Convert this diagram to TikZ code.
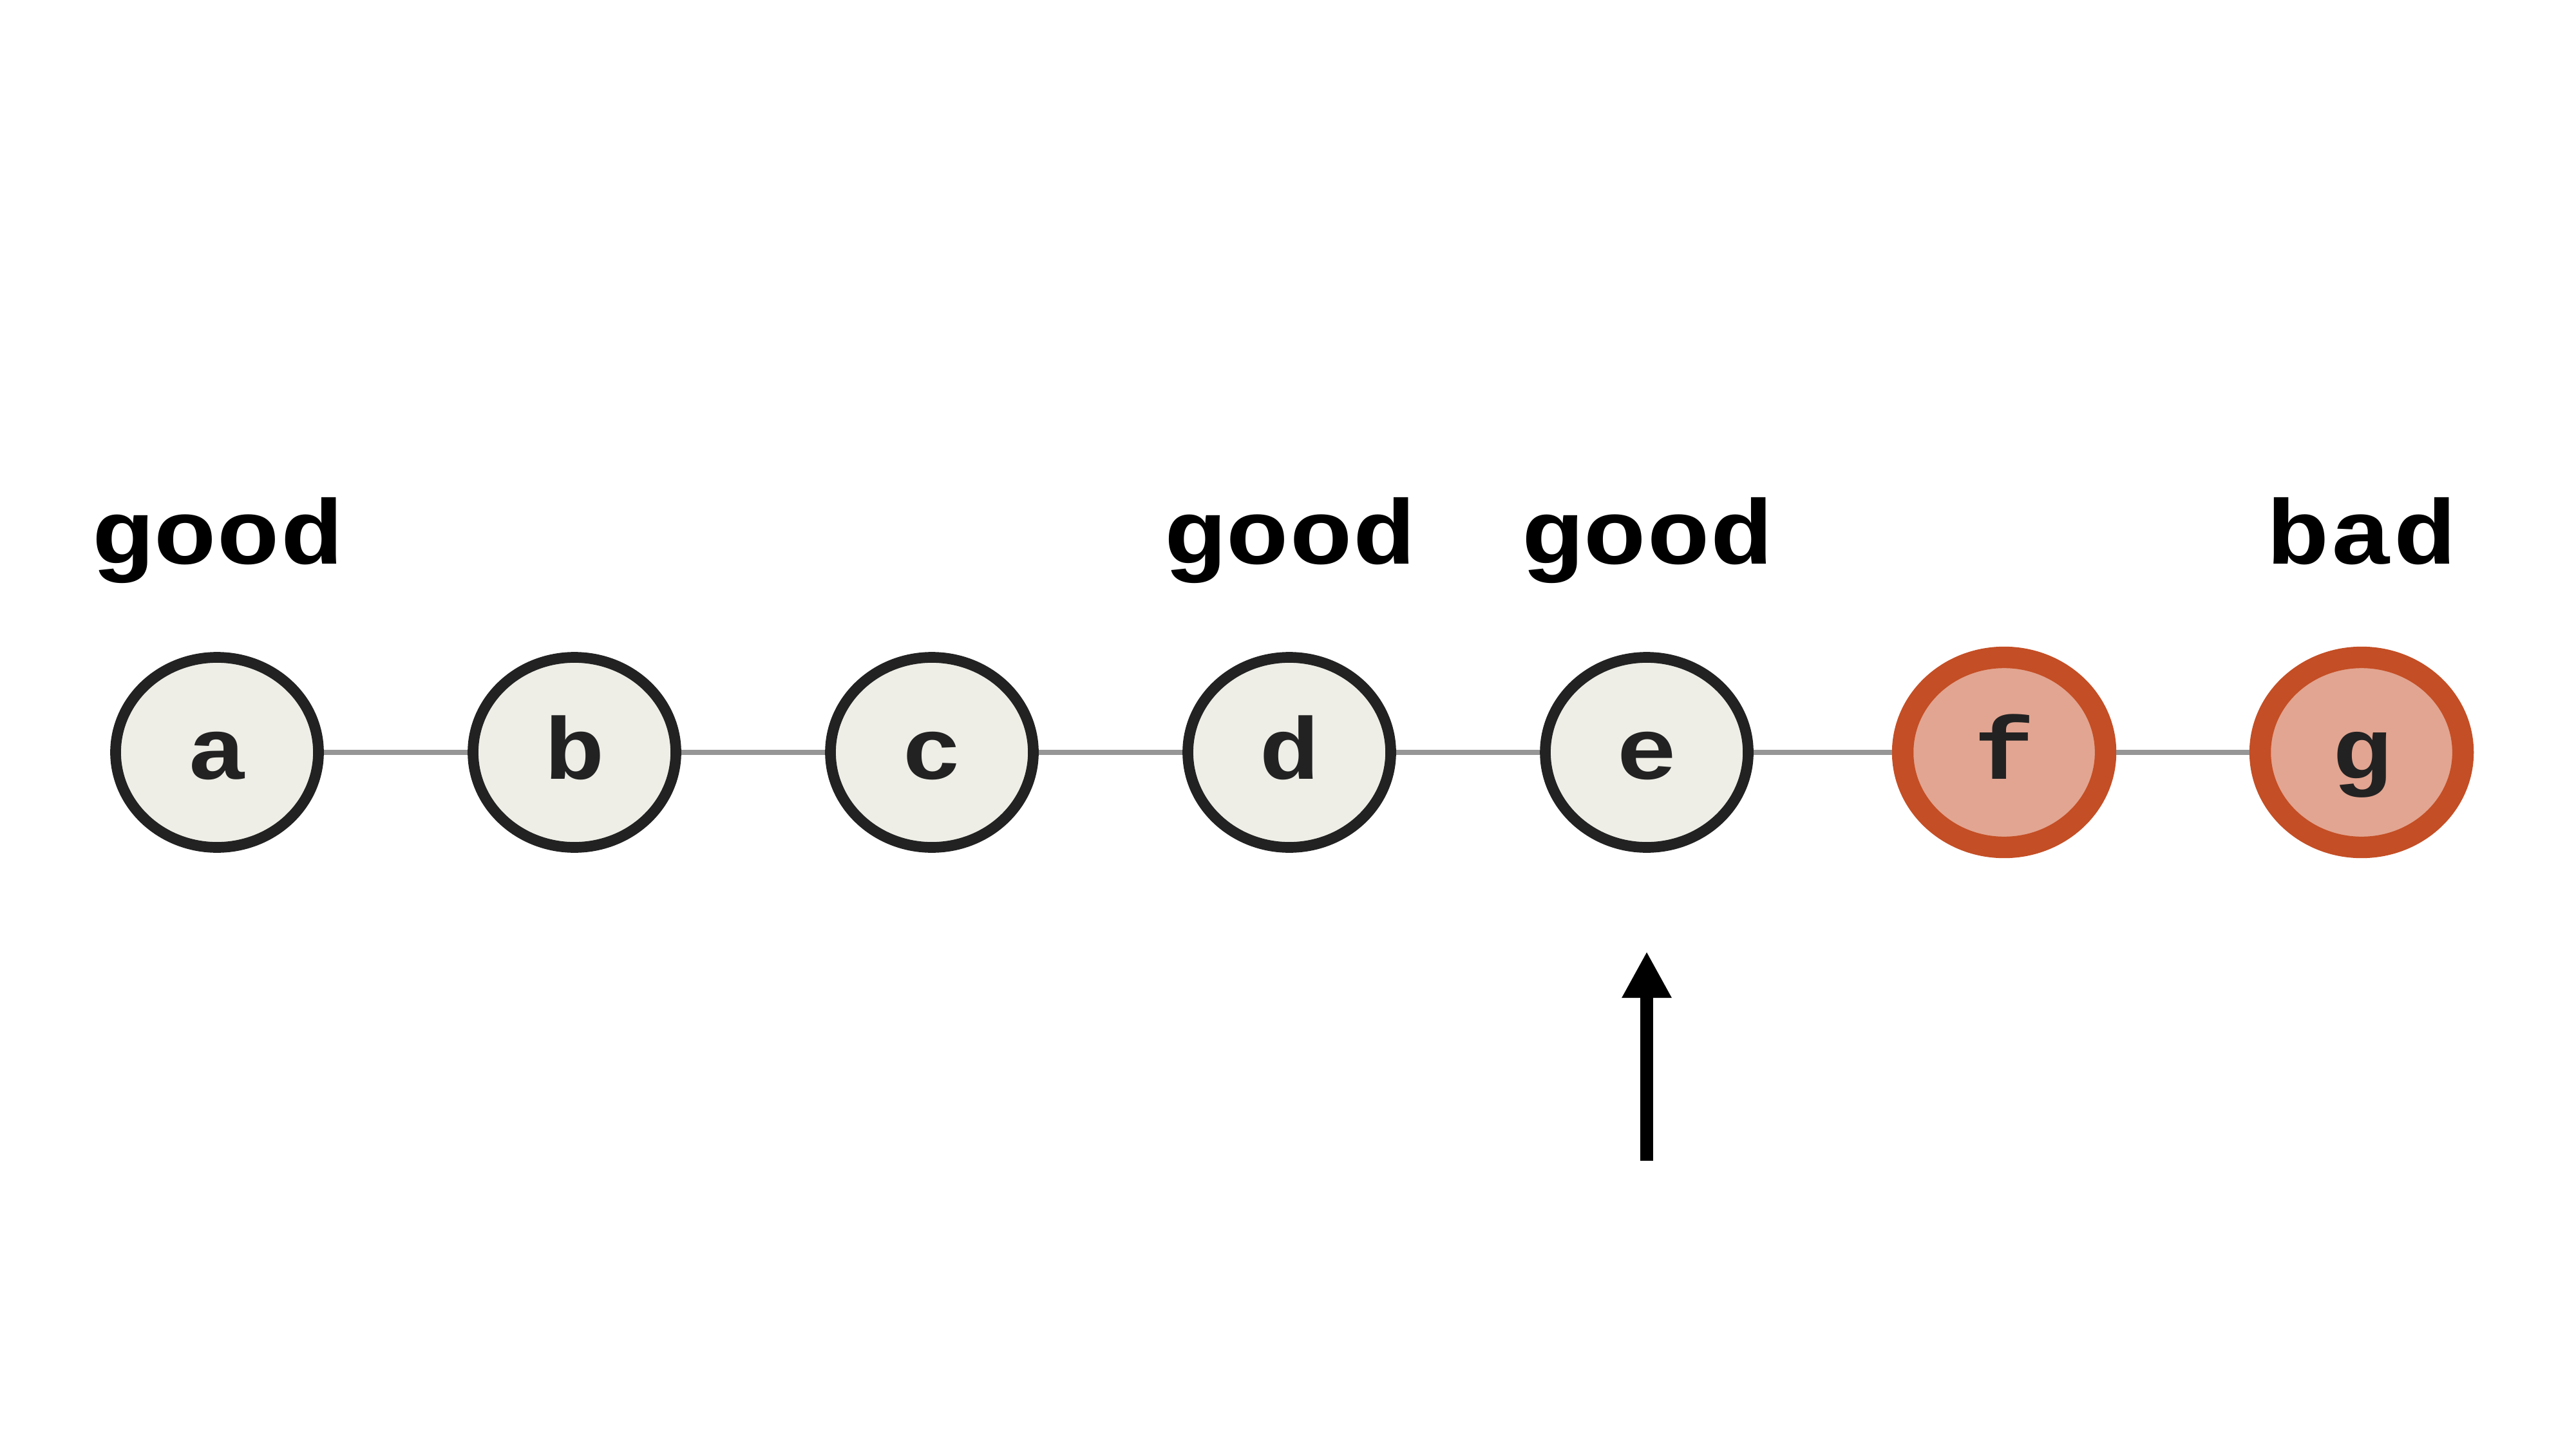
\documentclass[tikz,border=0pt]{standalone}
\usepackage{fontspec}
\setmonofont{Liberation Mono}[FakeStretch=1.15]
\usetikzlibrary{arrows.meta,positioning,shapes.geometric}

\definecolor{ink}{HTML}{222222}
\definecolor{paper}{HTML}{EEEEE7}
\definecolor{rust}{HTML}{C44E25}
\definecolor{blush}{HTML}{E2A591}
\definecolor{wire}{HTML}{969696}

\begin{document}
\begin{tikzpicture}[line cap=butt, line join=round,
    node distance=2.22cm, on grid,
    commit/.style={ellipse, draw=ink, fill=paper, line width=1.9pt,
      minimum width=1.26cm, minimum height=1.18cm, inner sep=0pt,
      text=ink, font=\ttfamily\bfseries\fontsize{15.5}{15.5}\selectfont,
      text height=9.4pt, text depth=0pt},
    broken/.style={commit, draw=rust, fill=blush, line width=3.8pt},
    verdict/.style={font=\ttfamily\bfseries\fontsize{16.2}{16.2}\selectfont,
      inner sep=0pt},
    link/.style={draw=wire, line width=0.9pt}]
  \useasboundingbox (0,0) rectangle (16,9);

  % history, oldest first
  \node[commit] (a) at (1.348,4.328) {a};
  \node[commit, right=of a] (b) {b};
  \node[commit, right=of b] (c) {c};
  \node[commit, right=of c] (d) {d};
  \node[commit, right=of d] (e) {e};
  \node[broken, right=of e] (f) {f};
  \node[broken, right=of f] (g) {g};

  \foreach \u/\v in {a/b,b/c,c/d,d/e,e/f,f/g}
    \draw[link] (\u) -- (\v);

  % marks from the bisect run
  \node[verdict, above=1.172cm of a, anchor=base] (ma) {good};
  \node[verdict, above=1.172cm of d, anchor=base] (md) {good};
  \node[verdict, above=1.172cm of e, anchor=base] (me) {good};
  \node[verdict, above=1.172cm of g, anchor=base] (mg) {bad};

  % current position
  \coordinate[below=2.536cm of e] (tail);
  \coordinate[below=1.236cm of e] (head);
  \draw[line width=2.2pt, -{Triangle[length=8.2pt, width=8.2pt]}] (tail) -- (head);
\end{tikzpicture}
\end{document}
